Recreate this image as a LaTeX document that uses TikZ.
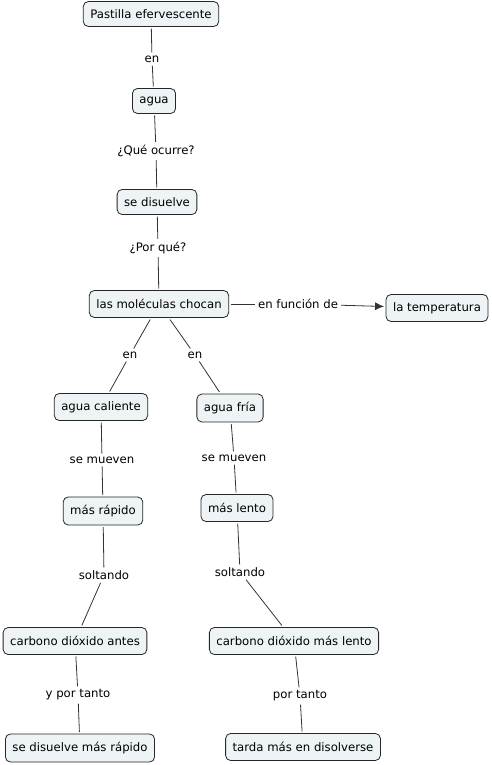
\documentclass[tikz,border=0pt]{standalone}
\usepackage{fontspec}
\setmainfont{DejaVu Sans}
\usepackage{xcolor}
\usepackage{tikz}
\usetikzlibrary{arrows.meta, positioning}

\definecolor{conceptfill}{HTML}{EEF3F5}
\definecolor{linkgray}{HTML}{333333}

\begin{document}
\begin{tikzpicture}[
			x=1pt, y=-1pt,
			every node/.style = {font=\fontsize{11.7}{13.5}\selectfont},
			concept/.style = {rectangle, draw=black!85, fill=conceptfill, line width=0.8pt,
					rounded corners=5pt, minimum height=25pt, inner xsep=7pt, outer sep=2pt},
			linklabel/.style = {inner sep=3pt},
			line/.style = {draw=linkgray, line width=0.8pt},
			arrowline/.style = {draw=linkgray, line width=0.8pt, -{Latex[length=9pt, width=8pt]}},
		]
		\useasboundingbox (0,0) rectangle (492,765);

		% Main chain
		\node [concept] (pastilla) at (151,14) {Pastilla efervescente};
		\node [linklabel] (en1) at (152,59) {en};
		\node [concept] (agua) at (154,101) {agua};
		\node [linklabel] (ocurre) at (156,151) {¿Qué ocurre?};
		\node [concept] (disuelve) at (157,202) {se disuelve};
		\node [linklabel] (porque) at (158,248) {¿Por qué?};
		\node [concept, minimum height=27pt] (chocan) at (159,304) {las moléculas chocan};

		% Temperature
		\node [linklabel] (funcion) at (298,304) {en función de};
		\node [concept, minimum height=27pt] (temp) at (437,308) {la temperatura};

		% Hot water branch
		\node [linklabel] (en2) at (130,355) {en};
		\node [concept, minimum height=27pt] (caliente) at (101,407) {agua caliente};
		\node [linklabel] (mueven1) at (102,460) {se mueven};
		\node [concept, minimum height=28pt] (rapido) at (103,511) {más rápido};
		\node [linklabel] (soltando1) at (104,575) {soltando};
		\node [concept, minimum height=27pt] (carbono1) at (75,641) {carbono dióxido antes};
		\node [linklabel] (portanto1) at (78,695) {y por tanto};
		\node [concept, minimum height=28pt] (rapido2) at (80,748) {se disuelve más rápido};

		% Cold water branch
		\node [linklabel] (en3) at (195,355) {en};
		\node [concept, minimum height=28pt] (fria) at (230,408) {agua fría};
		\node [linklabel] (mueven2) at (234,458) {se mueven};
		\node [concept, minimum height=27pt] (lento) at (237,508) {más lento};
		\node [linklabel] (soltando2) at (240,572) {soltando};
		\node [concept, minimum height=27pt] (carbono2) at (294,641) {carbono dióxido más lento};
		\node [linklabel] (portanto2) at (300,696) {por tanto};
		\node [concept, minimum height=27pt] (tarda) at (303,747) {tarda más en disolverse};

		% Draw links
		\path [line] (pastilla) -- (en1);
		\path [line] (en1) -- (agua);
		\path [line] (agua) -- (ocurre);
		\path [line] (ocurre) -- (disuelve);
		\path [line] (disuelve) -- (porque);
		\path [line] (porque) -- (chocan);
		\path [line] (chocan) -- (funcion);
		\path [arrowline] (funcion) -- (temp);
		\path [line] (chocan) -- (en2);
		\path [line] (en2) -- (caliente);
		\path [line] (chocan) -- (en3);
		\path [line] (en3) -- (fria);
		\path [line] (caliente) -- (mueven1);
		\path [line] (mueven1) -- (rapido);
		\path [line] (fria) -- (mueven2);
		\path [line] (mueven2) -- (lento);
		\path [line] (rapido) -- (soltando1);
		\path [line] (soltando1) -- (carbono1);
		\path [line] (lento) -- (soltando2);
		\path [line] (soltando2) -- (carbono2);
		\path [line] (carbono1) -- (portanto1);
		\path [line] (portanto1) -- (rapido2);
		\path [line] (carbono2) -- (portanto2);
		\path [line] (portanto2) -- (tarda);

	\end{tikzpicture}
\end{document}
